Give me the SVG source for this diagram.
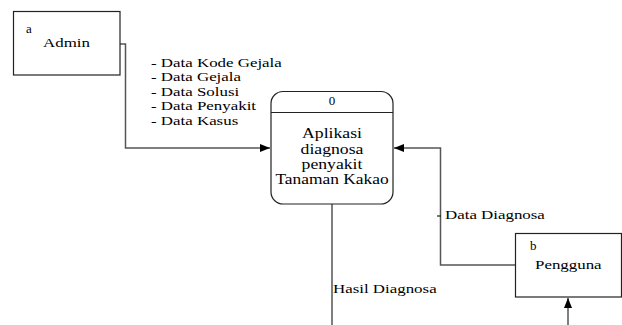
<svg xmlns="http://www.w3.org/2000/svg" width="622" height="325" viewBox="0 0 622 325">
<defs>
<marker id="arr" viewBox="0 0 10 8" refX="10" refY="4" markerWidth="10" markerHeight="8" markerUnits="userSpaceOnUse" orient="auto">
<path d="M0,0 L10,4 L0,8 Z" fill="#000"/>
</marker>
<style>
.box{fill:#fff;stroke:#222;stroke-width:1.2}
.con{fill:none;stroke:#555;stroke-width:1.5}
.t{font-family:"Liberation Serif","Times New Roman",Times,serif;fill:#000}
</style>
</defs>
<rect width="622" height="325" fill="#fff"/>
<g id="connectors">
<path class="con" d="M120,44 H125.5 V148 H270" marker-end="url(#arr)"/>
<path class="con" d="M515,265 H440.5 V148 H394" marker-end="url(#arr)"/>
<line x1="437" y1="216" x2="441" y2="216" stroke="#222" stroke-width="1.2"/>
<path class="con" d="M332,204 V325"/>
<path class="con" d="M568,325 V298" marker-end="url(#arr)"/>
<g class="t" font-size="13">
<text class="t" transform="translate(151,67) scale(1.3,1)">- Data Kode Gejala</text>
<text class="t" transform="translate(151,81) scale(1.3,1)">- Data Gejala</text>
<text class="t" transform="translate(151,95.5) scale(1.3,1)">- Data Solusi</text>
<text class="t" transform="translate(151,110) scale(1.3,1)">- Data Penyakit</text>
<text class="t" transform="translate(151,124.5) scale(1.3,1)">- Data Kasus</text>
<text class="t" transform="translate(445,219) scale(1.3,1)">Data Diagnosa</text>
<text class="t" transform="translate(333,293) scale(1.3,1)">Hasil Diagnosa</text>
</g>
</g>
<g id="admin" class="t" font-size="13">
<rect class="box" x="13.5" y="11.5" width="106.5" height="63.5"/>
<text class="t" x="26" y="33">a</text>
<text class="t" transform="translate(43,47) scale(1.3,1)">Admin</text>
</g>
<g id="process0" class="t" text-anchor="middle">
<rect class="box" x="271" y="91.5" width="122" height="112.5" rx="12" ry="12"/>
<line x1="271" y1="112.5" x2="393" y2="112.5" stroke="#222" stroke-width="1.2"/>
<text class="t" x="332" y="105" font-size="13">0</text>
<g font-size="14.5">
<text class="t" transform="translate(332,138) scale(1.22,1)">Aplikasi</text>
<text class="t" transform="translate(332,153.5) scale(1.22,1)">diagnosa</text>
<text class="t" transform="translate(332,168.5) scale(1.22,1)">penyakit</text>
<text class="t" transform="translate(332,183.5) scale(1.2,1)">Tanaman Kakao</text>
</g>
</g>
<g id="pengguna" class="t" font-size="13">
<rect class="box" x="515.5" y="233.5" width="106" height="63.5"/>
<text class="t" x="530" y="250">b</text>
<text class="t" transform="translate(535,269) scale(1.3,1)">Pengguna</text>
</g>
</svg>
